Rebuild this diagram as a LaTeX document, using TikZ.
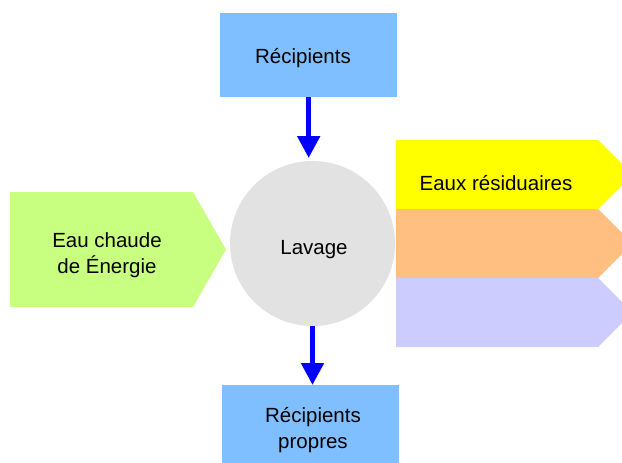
\documentclass[tikz,border=0pt]{standalone}
\usepackage{fontspec}
\setmainfont{Liberation Sans}
\usetikzlibrary{arrows.meta}
\definecolor{boxblue}{HTML}{80BFFF}
\definecolor{hotgreen}{HTML}{C8FF80}
\definecolor{wasteyellow}{HTML}{FFFF00}
\definecolor{outorange}{HTML}{FFBF80}
\definecolor{outlilac}{HTML}{CCCCFF}
\definecolor{washgray}{HTML}{E2E2E2}
\definecolor{flowblue}{HTML}{0000FF}
\tikzset{
  lbl/.style={font=\fontsize{20.5}{26}\selectfont, text=black, align=center, inner sep=0pt},
  flow/.style={draw=flowblue, line width=5pt, -{Triangle[width=22pt,length=22pt]}},
  stepbox/.style={fill=boxblue, draw=none, anchor=north west, inner sep=0pt}
}
\begin{document}
\begin{tikzpicture}[x=1pt,y=-1pt]
\useasboundingbox (0,0) rectangle (622,463);
\clip (0,0) rectangle (622,463);

% containers in and out
\node[stepbox, minimum width=177pt, minimum height=84pt] (top) at (220,13) {};
\node[lbl] (toplbl) at (303,58) {Récipients};
\node[stepbox, minimum width=177pt, minimum height=80pt] (bot) at (222,385) {};
\node[lbl] (botlbl) at (313,430) {Récipients\\propres};

% washing step
\node[circle, fill=washgray, minimum size=165pt, inner sep=0pt] (lav) at (312.5,243.5) {};
\node[lbl] (lavlbl) at (314,250) {Lavage};

% input arrow shape
\fill[hotgreen] (10,192) -- (193,192) -- (226,249.5) -- (193,307) -- (10,307) -- cycle;
\node[lbl] (inlbl) at (107,255) {Eau chaude\\de Énergie};

% output arrow shapes
\fill[wasteyellow] (396,140) -- (598,140) -- (632.5,174.5) -- (598,209) -- (396,209) -- cycle;
\fill[outorange] (396,209) -- (598,209) -- (632.5,243.5) -- (598,278) -- (396,278) -- cycle;
\fill[outlilac] (396,278) -- (598,278) -- (632.5,312.5) -- (598,347) -- (396,347) -- cycle;
\node[lbl] (outlbl) at (496,183) {Eaux résiduaires};

% flow arrows
\draw[flow] (top.south) -- (top.south |- 0,158);
\draw[flow] (lav.south) -- (lav.south |- bot.north);
\end{tikzpicture}
\end{document}
